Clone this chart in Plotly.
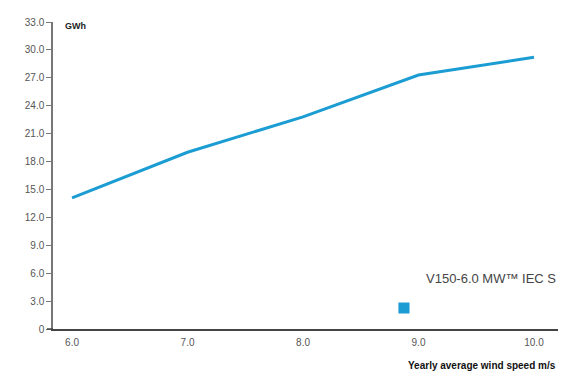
import plotly.graph_objects as go

# Annual energy production by yearly average wind speed
wind_speed = [6.0, 7.0, 8.0, 9.0, 10.0]
aep_gwh = [14.1, 19.0, 22.8, 27.3, 29.2]

x_ticks = [6.0, 7.0, 8.0, 9.0, 10.0]
x_ticktext = ["6.0", "7.0", "8.0", "9.0", "10.0"]
y_ticks = [0, 3, 6, 9, 12, 15, 18, 21, 24, 27, 30, 33]
y_ticktext = ["0", "3.0", "6.0", "9.0", "12.0", "15.0", "18.0", "21.0",
              "24.0", "27.0", "30.0", "33.0"]

series_name = "V150-6.0 MW\u2122 IEC S"
line_color = "#1b9dd3"
tick_font = dict(family="Liberation Sans Narrow, Liberation Sans, sans-serif",
                 size=10, color="#555555")

fig = go.Figure()
fig.add_trace(go.Scatter(
    x=wind_speed, y=aep_gwh, mode="lines",
    line=dict(color=line_color, width=3),
    name=series_name, showlegend=False,
))

fig.update_layout(
    width=567, height=372,
    margin=dict(l=53, r=9, t=22, b=43),
    paper_bgcolor="white", plot_bgcolor="white",
    xaxis=dict(
        range=[5.835, 10.208], tickvals=x_ticks, ticktext=x_ticktext,
        showgrid=False, zeroline=False, showline=True,
        linecolor="#444444", linewidth=1.5,
        ticks="outside", ticklen=3, tickcolor="rgba(0,0,0,0)",
        tickfont=tick_font,
    ),
    yaxis=dict(
        range=[0, 33], tickvals=y_ticks, ticktext=y_ticktext,
        showgrid=False, zeroline=False, showline=True,
        linecolor="#777777", linewidth=1.5,
        ticks="outside", ticklen=5, tickcolor="#777777", tickwidth=1,
        tickfont=tick_font,
    ),
    shapes=[
        # x-axis line runs slightly past the y axis
        dict(type="line", xref="paper", yref="paper", x0=-0.012, x1=0.0,
             y0=0, y1=0, line=dict(color="#444444", width=1.5)),
        # legend key
        dict(type="rect", xref="paper", yref="paper",
             x0=0.684, x1=0.706, y0=0.0505, y1=0.0863,
             fillcolor=line_color, line=dict(width=0)),
    ],
    annotations=[
        dict(text="<b>GWh</b>", xref="paper", yref="paper", x=0.02, y=0.987,
             xanchor="left", yanchor="middle", showarrow=False,
             font=dict(family="Liberation Sans Narrow, Liberation Sans, sans-serif",
                       size=9, color="#222222")),
        dict(text="<b>Yearly average wind speed m/s</b>", xref="paper", yref="paper",
             x=1.0, y=-0.12, xanchor="right", yanchor="middle", showarrow=False,
             font=dict(family="Liberation Sans Narrow, Liberation Sans, sans-serif",
                       size=10, color="#111111")),
        dict(text=series_name, xref="paper", yref="paper", x=1.0, y=0.166,
             xanchor="right", yanchor="middle", showarrow=False,
             font=dict(family="Liberation Sans Narrow, Liberation Sans, sans-serif",
                       size=13, color="#444444")),
    ],
)

fig.write_html("out.html")
